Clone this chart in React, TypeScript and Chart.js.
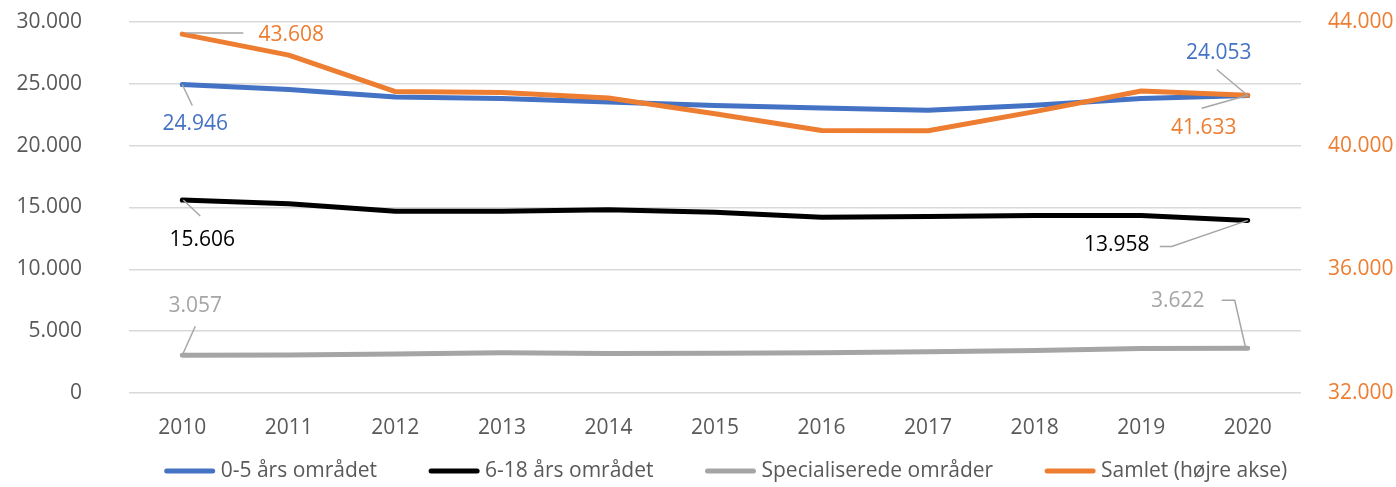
import React, { useEffect, useRef } from 'react';
import { Chart, registerables } from 'chart.js';

Chart.register(...registerables);

const years = ['2010', '2011', '2012', '2013', '2014', '2015', '2016', '2017', '2018', '2019', '2020'];
const area05 = [24946, 24550, 23940, 23810, 23540, 23240, 23050, 22870, 23270, 23810, 24053];
const area618 = [15606, 15300, 14700, 14700, 14810, 14620, 14215, 14270, 14350, 14350, 13958];
const specialized = [3057, 3080, 3150, 3250, 3200, 3220, 3250, 3330, 3440, 3600, 3622];
const total = [43608, 42930, 41750, 41720, 41540, 41030, 40490, 40480, 41100, 41770, 41633];

const seriesNames = ['0-5 års området', '6-18 års området', 'Specialiserede områder', 'Samlet (højre akse)'];
const seriesColors = ['#4472C4', '#000000', '#A5A5A5', '#ED7D31'];

const FONT = '"Open Sans", "Noto Sans", sans-serif';
const FS = 21;

const fmt = (v: number) => Math.round(v).toString().replace(/\B(?=(\d{3})+(?!\d))/g, '.');

// label placement (style): offsets in px relative to the data point
const labelDefs = [
  { ds: 3, idx: 0, dx: 109, dy: 1, leader: [[4, -1], [61, -1]] },
  { ds: 0, idx: 0, dx: 13, dy: 40, leader: [[0, 0], [10, 21]] },
  { ds: 1, idx: 0, dx: 20, dy: 40, leader: [[1, 0], [18, 16]] },
  { ds: 2, idx: 0, dx: 13, dy: -49, leader: [[0, 0], [13, -29]] },
  { ds: 0, idx: 10, dx: -29, dy: -43, leader: [[-31, -26], [0, 0]] },
  { ds: 3, idx: 10, dx: -44, dy: 33, leader: [[-46, 13], [0, 0]] },
  { ds: 1, idx: 10, dx: -131, dy: 25, leader: [[-88, 26], [-76, 26], [0, 0]] },
  { ds: 2, idx: 10, dx: -70, dy: -47, leader: [[-26, -48], [-13, -48], [-2, 0]] },
];

const labelPlugin = {
  id: 'leaderLabels',
  afterDatasetsDraw(chart: any) {
    const ctx = chart.ctx;
    ctx.save();
    for (const d of labelDefs) {
      const meta = chart.getDatasetMeta(d.ds);
      const pt = meta.data[d.idx];
      if (!pt) continue;
      const px = pt.x, py = pt.y;
      ctx.strokeStyle = '#A6A6A6';
      ctx.lineWidth = 1.5;
      ctx.beginPath();
      d.leader.forEach((p: number[], i: number) => {
        if (i === 0) ctx.moveTo(px + p[0], py + p[1]);
        else ctx.lineTo(px + p[0], py + p[1]);
      });
      ctx.stroke();
      const value = chart.data.datasets[d.ds].data[d.idx] as number;
      ctx.fillStyle = seriesColors[d.ds];
      ctx.font = `${FS}px ${FONT}`;
      ctx.textAlign = 'center';
      ctx.textBaseline = 'middle';
      ctx.fillText(fmt(value), px + d.dx, py + d.dy);
    }
    ctx.restore();
  },
};

const legendPlugin = {
  id: 'customLegend',
  afterDraw(chart: any) {
    const ctx = chart.ctx;
    ctx.save();
    ctx.font = `${FS}px ${FONT}`;
    const lineLen = 50;
    const gap = 6;
    const itemGap = 52;
    const widths = seriesNames.map((n) => lineLen + gap + ctx.measureText(n).width);
    const totalW = widths.reduce((a, b) => a + b, 0) + itemGap * (widths.length - 1);
    const ca = chart.chartArea;
    let x = (ca.left + ca.right) / 2 + 11 - totalW / 2;
    const y = 471;
    seriesNames.forEach((n, i) => {
      ctx.strokeStyle = seriesColors[i];
      ctx.lineWidth = 5;
      ctx.lineCap = 'round';
      ctx.beginPath();
      ctx.moveTo(x + 2, y);
      ctx.lineTo(x + lineLen - 2, y);
      ctx.stroke();
      ctx.fillStyle = '#595959';
      ctx.textAlign = 'left';
      ctx.textBaseline = 'middle';
      ctx.fillText(n, x + lineLen + gap, y);
      x += widths[i] + itemGap;
    });
    ctx.restore();
  },
};

export default function App() {
  const ref = useRef<HTMLCanvasElement>(null);
  useEffect(() => {
    document.body.style.margin = '0';
    const canvas = ref.current!;
    const mk = (label: string, data: number[], color: string, axis: string, order: number) => ({
      label,
      data,
      borderColor: color,
      backgroundColor: color,
      borderWidth: 5,
      pointRadius: 0,
      pointHoverRadius: 0,
      tension: 0,
      fill: false,
      borderCapStyle: 'round',
      borderJoinStyle: 'round',
      yAxisID: axis,
      order,
    });
    const fixV = (w: number) => (s: any) => {
      s.width = w;
      s.paddingTop = 0;
      s.paddingBottom = 0;
    };
    const chart = new Chart(canvas, {
      type: 'line',
      data: {
        labels: years,
        datasets: [
          mk(seriesNames[0], area05, seriesColors[0], 'y', 1),
          mk(seriesNames[1], area618, seriesColors[1], 'y', 2),
          mk(seriesNames[2], specialized, seriesColors[2], 'y', 3),
          mk(seriesNames[3], total, seriesColors[3], 'y1', 0),
        ] as any,
      },
      options: {
        responsive: false,
        animation: false,
        events: [],
        layout: { padding: { top: 22, left: 0, right: 0, bottom: 0 } },
        plugins: {
          legend: { display: false },
          tooltip: { enabled: false },
        },
        scales: {
          x: {
            type: 'category',
            offset: true,
            grid: { display: false },
            border: { display: false },
            ticks: { color: '#595959', font: { family: FONT, size: FS }, padding: 14, maxRotation: 0 },
            afterFit: (s: any) => {
              s.height = 94;
              s.paddingLeft = 0;
              s.paddingRight = 0;
            },
          },
          y: {
            position: 'left',
            min: 0,
            max: 30000,
            ticks: { stepSize: 5000, color: '#595959', font: { family: FONT, size: FS }, padding: 47, callback: (v: any) => fmt(Number(v)) },
            grid: { color: '#D9D9D9', lineWidth: 1.5, drawTicks: false },
            border: { display: false },
            afterFit: fixV(129),
          },
          y1: {
            position: 'right',
            min: 32000,
            max: 44000,
            ticks: { stepSize: 4000, color: '#ED7D31', font: { family: FONT, size: FS }, padding: 27, callback: (v: any) => fmt(Number(v)) },
            grid: { display: false, drawTicks: false },
            border: { display: false },
            afterFit: fixV(95),
          },
        },
      } as any,
      plugins: [labelPlugin, legendPlugin],
    });
    return () => chart.destroy();
  }, []);
  return (
    <div style={{ width: 1396, height: 487 }}>
      <canvas ref={ref} width={1396} height={487} style={{ display: 'block' }} />
    </div>
  );
}
